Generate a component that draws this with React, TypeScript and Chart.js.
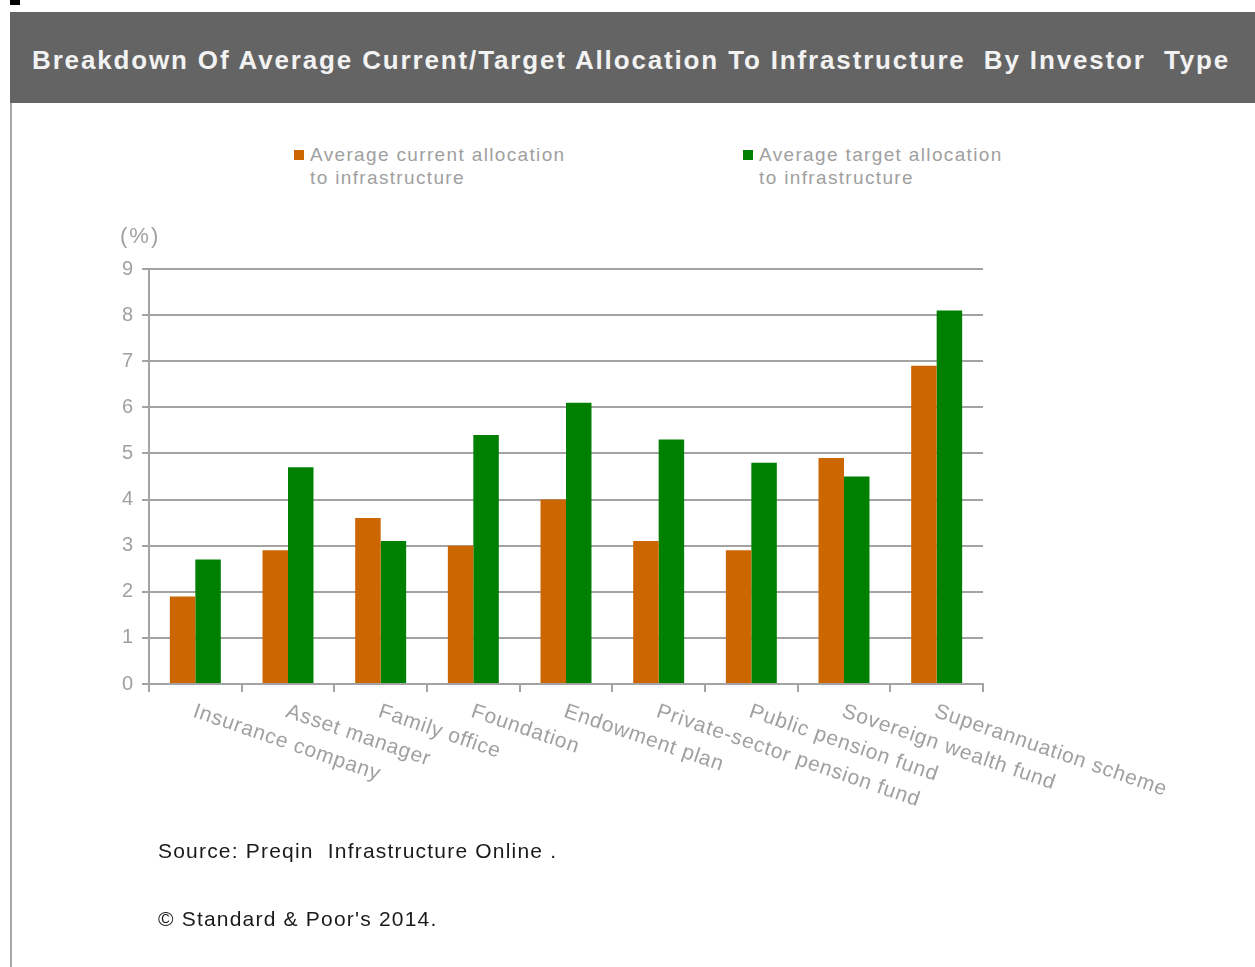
import React, { useEffect, useRef } from "react";
import { Chart, registerables } from "chart.js";

Chart.register(...registerables);

const categories = [
  "Insurance company",
  "Asset manager",
  "Family office",
  "Foundation",
  "Endowment plan",
  "Private-sector pension fund",
  "Public pension fund",
  "Sovereign wealth fund",
  "Superannuation scheme",
];
const currentAllocation = [1.9, 2.9, 3.6, 3.0, 4.0, 3.1, 2.9, 4.9, 6.9];
const targetAllocation = [2.7, 4.7, 3.1, 5.4, 6.1, 5.3, 4.8, 4.5, 8.1];
const seriesNames = [
  ["Average current allocation", "to infrastructure"],
  ["Average target allocation", "to infrastructure"],
];
const seriesColors = ["#CC6600", "#008000"];
const yTicks = [0, 1, 2, 3, 4, 5, 6, 7, 8, 9];

const FONT = "Arial, 'Liberation Sans', sans-serif";
const GRID = "#a3a3a3";
const LABEL = "#a0a0a0";

const xLabelPlugin = {
  id: "rotatedXLabels",
  afterDraw(chart: any) {
    const { ctx, scales, chartArea } = chart;
    const xs = scales.x;
    ctx.save();
    ctx.font = `21px ${FONT}`;
    ctx.fillStyle = LABEL;
    ctx.textAlign = "left";
    ctx.textBaseline = "top";
    try {
      (ctx as any).letterSpacing = "0.8px";
    } catch (e) {}
    categories.forEach((c, i) => {
      const x = xs.getPixelForValue(i) + 2;
      const y = chartArea.bottom + 17;
      ctx.save();
      ctx.translate(x, y);
      ctx.rotate((19 * Math.PI) / 180);
      ctx.fillText(c, 0, 0);
      ctx.restore();
    });
    try {
      (ctx as any).letterSpacing = "2px";
    } catch (e) {}
    ctx.font = `22px ${FONT}`;
    ctx.textAlign = "left";
    ctx.textBaseline = "middle";
    ctx.fillText("(%)", 120, 237);
    ctx.restore();
  },
};

export default function App() {
  const ref = useRef<HTMLCanvasElement | null>(null);

  useEffect(() => {
    if (!ref.current) return;
    const chart = new Chart(ref.current, {
      type: "bar",
      data: {
        labels: categories,
        datasets: [
          {
            label: seriesNames[0].join(" "),
            data: currentAllocation,
            backgroundColor: seriesColors[0],
            borderWidth: 0,
            categoryPercentage: 0.55,
            barPercentage: 1,
          },
          {
            label: seriesNames[1].join(" "),
            data: targetAllocation,
            backgroundColor: seriesColors[1],
            borderWidth: 0,
            categoryPercentage: 0.55,
            barPercentage: 1,
          },
        ],
      },
      options: {
        animation: false,
        responsive: false,
        maintainAspectRatio: false,
        layout: { padding: { left: 0, top: 269, right: 272, bottom: 253 } },
        plugins: {
          legend: { display: false },
          tooltip: { enabled: false },
          title: { display: false },
        },
        scales: {
          x: {
            offset: true,
            grid: {
              offset: true,
              drawOnChartArea: false,
              drawTicks: true,
              tickLength: 8,
              color: GRID,
              lineWidth: 2,
            },
            border: { display: true, color: GRID, width: 2 },
            ticks: { display: false },
            afterFit: (s: any) => {
              s.height = 30;
            },
          },
          y: {
            min: 0,
            max: 9,
            afterBuildTicks: (s: any) => {
              s.ticks = yTicks.map((v) => ({ value: v }));
            },
            grid: {
              color: GRID,
              lineWidth: 2,
              drawTicks: true,
              tickLength: 7,
            },
            border: { display: true, color: GRID, width: 2 },
            ticks: {
              color: LABEL,
              font: { family: FONT, size: 20 },
              padding: 9,
            },
            afterFit: (s: any) => {
              s.width = 149;
            },
          },
        },
      },
      plugins: [xLabelPlugin],
    });
    return () => chart.destroy();
  }, []);

  const legendItem = (i: number, left: number) => (
    <div
      style={{
        position: "absolute",
        left,
        top: 143,
        fontFamily: FONT,
        fontSize: 19,
        lineHeight: "23px",
        letterSpacing: "1.35px",
        color: LABEL,
        whiteSpace: "nowrap",
      }}
    >
      <div style={{ display: "flex", alignItems: "center" }}>
        <span
          style={{
            display: "inline-block",
            width: 10,
            height: 10,
            background: seriesColors[i],
            marginRight: 6,
          }}
        />
        <span>{seriesNames[i][0]}</span>
      </div>
      <div style={{ paddingLeft: 16 }}>{seriesNames[i][1]}</div>
    </div>
  );

  const footStyle: React.CSSProperties = {
    position: "absolute",
    left: 158,
    fontFamily: FONT,
    fontSize: 21,
    lineHeight: "26px",
    letterSpacing: "1.2px",
    color: "#1a1a1a",
    whiteSpace: "pre",
  };

  return (
    <div
      style={{
        position: "absolute",
        left: 0,
        top: 0,
        width: 1255,
        height: 967,
        background: "#fff",
        overflow: "hidden",
      }}
    >
      <div style={{ position: "absolute", left: 10, top: 0, width: 10, height: 5, background: "#000" }} />
      <div
        style={{
          position: "absolute",
          left: 10,
          top: 12,
          width: 1245,
          height: 91,
          background: "#646464",
        }}
      />
      <div
        style={{
          position: "absolute",
          left: 32,
          top: 42,
          fontFamily: FONT,
          fontWeight: "bold",
          fontSize: 26,
          lineHeight: "36px",
          letterSpacing: "1.85px",
          color: "#f2f2f2",
          whiteSpace: "pre",
        }}
      >
        {"Breakdown Of Average Current/Target Allocation To Infrastructure  By Investor  Type"}
      </div>
      <div
        style={{
          position: "absolute",
          left: 10,
          top: 103,
          width: 2,
          height: 864,
          background: "#a8a8a8",
        }}
      />
      {legendItem(0, 294)}
      {legendItem(1, 743)}
      <canvas
        ref={ref}
        width={1255}
        height={967}
        style={{ position: "absolute", left: 0, top: 0, width: 1255, height: 967 }}
      />
      <div style={{ ...footStyle, top: 838 }}>{"Source: Preqin  Infrastructure Online ."}</div>
      <div style={{ ...footStyle, top: 906 }}>{"© Standard & Poor's 2014."}</div>
    </div>
  );
}
